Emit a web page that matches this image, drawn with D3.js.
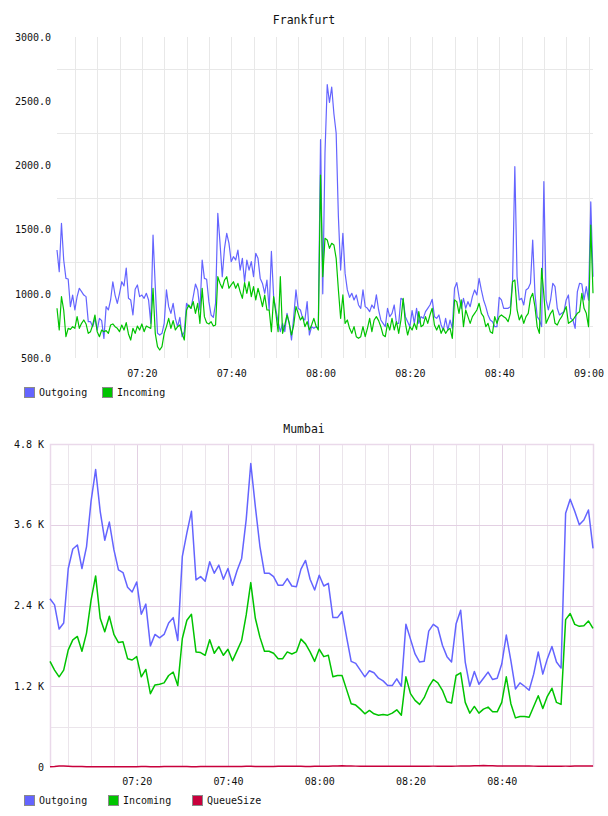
<!DOCTYPE html>
<html>
<head>
<meta charset="utf-8">
<script src="https://cdn.jsdelivr.net/npm/d3@7"></script>
<style>
  html, body { margin: 0; padding: 0; background: #fff; }
  svg { display: block; }
  text { font-family: "DejaVu Sans Mono", monospace; fill: #111; }
</style>
</head>
<body>
<svg id="chart" width="608" height="816"></svg>
<script>
// ---------------- DATA ----------------
const seriesNames = ["Outgoing", "Incoming", "QueueSize"];
const seriesColors = ["#6464ff", "#00c400", "#c8003c"];

// Frankfurt: 30-second samples from 07:01:00
const frankfurtStart = [7, 1, 0];
const frankfurtStepSec = 30;
const frankfurtOutgoing = [
1341,1172,1549,1263,1120,1115,900,990,874,978,
1043,1017,990,978,783,783,744,809,718,809,
791,653,900,874,952,1094,990,926,1004,1094,
1061,1200,965,952,835,1035,1069,978,990,965,
1004,952,770,1458,1056,692,679,692,770,1030,
900,848,926,809,744,817,666,705,926,900,
887,978,1076,1030,874,1263,1120,1113,939,835,
817,926,1627,1393,1133,1354,1471,1393,1250,1289,
1263,1341,1185,1276,1094,1263,1185,1250,1133,1315,
1276,1120,1081,1004,1107,874,1330,978,874,783,
705,770,705,848,770,640,822,1030,887,874,
809,796,939,679,744,731,744,731,2200,1000,
2100,2630,2490,2610,2400,2250,1600,1185,1471,1159,
1030,972,1004,952,991,913,887,1030,900,887,
861,913,887,991,874,796,770,744,887,822,
848,913,770,770,965,952,822,783,744,869,
770,887,770,822,809,861,887,913,957,822,
809,835,757,718,809,718,796,731,1043,1087,
978,887,965,887,939,900,978,1030,991,1120,
1030,952,900,835,796,783,744,744,972,952,
887,887,887,900,1107,1990,1133,952,965,913,
1030,1043,1082,1419,1004,822,796,744,1873,952,
874,952,1082,1056,887,835,848,861,952,991,
809,796,731,1017,1082,1076,952,1056,950,1717,
1133];
const frankfurtIncoming = [
887,718,978,874,666,731,723,744,731,822,
731,770,796,765,692,705,757,835,705,666,
718,705,713,692,757,765,744,731,705,757,
718,775,687,640,731,692,749,718,765,705,
749,739,731,1043,692,588,562,588,692,744,
809,731,791,718,744,757,692,640,874,913,
887,939,848,926,770,1043,822,775,765,783,
749,757,1133,1081,1043,1107,1133,1043,1069,1094,
1043,1081,1017,965,1087,1004,1094,978,1056,952,
1043,978,900,990,874,874,705,978,848,705,
1133,692,757,835,770,679,757,900,848,796,
822,744,783,718,757,809,749,718,1925,1133,
1432,1419,1354,1393,1380,1276,1030,809,991,770,
796,731,692,744,666,653,666,744,666,731,
809,705,796,822,791,744,679,666,770,718,
809,718,783,692,796,965,770,679,744,718,
770,723,861,744,757,822,770,835,887,757,
718,757,692,731,692,718,731,653,952,939,
848,952,744,874,822,770,822,848,874,926,
848,822,744,770,705,692,822,770,822,835,
822,809,783,848,1094,1107,874,796,835,770,
822,848,965,1004,900,744,692,1198,991,770,
809,848,874,770,757,796,822,861,900,770,
783,796,822,848,861,1004,887,848,744,1536,
1004];
const frankfurtYTicks = [500, 1000, 1500, 2000, 2500, 3000];
const frankfurtYGrid = [750, 1250, 1750, 2250, 2750];
const frankfurtXTicks = ["07:20", "07:40", "08:00", "08:20", "08:40", "09:00"];

// Mumbai: 1-minute samples from 07:01
const mumbaiStart = [7, 1, 0];
const mumbaiStepSec = 60;
const mumbaiOutgoing = [
2500,2410,2050,2140,2950,3240,3300,2950,3270,3950,
4420,3800,3370,3640,3230,2930,2890,2670,2600,2750,
2270,2420,1800,1970,1920,1970,2140,2220,1880,3130,
3480,3800,2780,2830,2760,3050,2880,3000,2790,2950,
2700,2920,3100,3680,4510,3870,3280,2880,2880,2830,
2700,2700,2800,2690,2680,2940,3070,2790,2630,2850,
2690,2730,2220,2220,2310,1930,1570,1540,1440,1340,
1430,1400,1320,1280,1210,1210,1310,1200,2120,1900,
1680,1560,1570,2020,2120,2070,1810,1640,1560,2130,
2330,1560,1200,1420,1230,1320,1410,1300,1320,1530,
1960,1580,1160,1250,1200,1140,1380,1710,1380,1610,
1790,1560,1470,3770,3980,3800,3600,3670,3820,3250];
const mumbaiIncoming = [
1570,1440,1340,1440,1740,1890,1940,1720,1990,2480,
2840,2210,2010,2240,1970,1850,1860,1610,1590,1640,
1340,1450,1090,1220,1230,1250,1360,1410,1210,1910,
2180,2270,1710,1700,1660,1890,1690,1790,1660,1750,
1580,1730,1880,2260,2740,2210,1930,1720,1720,1690,
1610,1610,1710,1680,1710,1900,1830,1710,1570,1750,
1640,1660,1340,1360,1360,1150,940,920,860,790,
840,790,770,780,770,800,850,770,1340,1090,
990,930,1030,1190,1300,1250,1140,970,950,1360,
1400,960,800,900,800,860,890,820,820,960,
1340,940,730,750,750,740,900,1060,870,1050,
1170,960,930,2190,2280,2120,2090,2100,2170,2060];
const mumbaiQueueSize = [
4,8,14,16,12,9,7,6,5,5,
4,4,4,3,3,4,4,5,5,5,
6,6,5,5,5,6,6,7,7,6,
6,5,5,6,7,8,8,7,7,8,
8,9,9,10,10,9,9,8,8,9,
10,10,11,11,10,10,9,9,10,10,
11,12,14,16,18,16,14,13,12,12,
11,11,10,10,10,11,12,12,12,11,
11,11,12,12,13,13,12,12,12,13,
14,15,16,18,20,22,20,18,16,15,
14,14,15,16,15,14,13,13,12,12,
12,12,12,13,13,14,14,15,15,15];
const mumbaiYTicks = [0, 1200, 2400, 3600, 4800];
const mumbaiYTickLabels = ["0", "1.2 K", "2.4 K", "3.6 K", "4.8 K"];
const mumbaiYGridMinor = [600, 1800, 3000, 4200];
const mumbaiXTicks = ["07:20", "07:40", "08:00", "08:20", "08:40"];

// ---------------- DRAWING ----------------
const svg = d3.select("#chart");
const day = (h, m, s) => new Date(2020, 0, 1, h, m, s || 0);
const parseHM = d3.timeParse("%H:%M");
const hm = str => { const t = parseHM(str); return day(t.getHours(), t.getMinutes(), 0); };
const times = (start, step, n) => d3.range(n).map(i => new Date(day(...start).getTime() + i * step * 1000));
const crisp = v => Math.round(v) + 0.5;

function legend(g, names, colors, xs, y) {
  names.forEach((name, i) => {
    g.append("rect").attr("x", xs[i] + 0.5).attr("y", y - 4.5).attr("width", 10).attr("height", 10)
      .attr("fill", colors[i]).attr("stroke", "#8a8a8a").attr("stroke-width", 1);
    g.append("text").attr("x", xs[i] + 15).attr("y", y + 4).attr("font-size", "10px").text(name);
  });
}

// ---- Frankfurt ----
(function () {
  const L = 57, R = 593, T = 37, B = 358;
  const t = times(frankfurtStart, frankfurtStepSec, frankfurtOutgoing.length);
  const x = d3.scaleTime().domain([t[0], t[t.length - 1]]).range([L, R]);
  const y = d3.scaleLinear().domain([500, 3000]).range([B, T]);
  const g = svg.append("g");

  g.append("text").attr("x", 304).attr("y", 24).attr("text-anchor", "middle")
    .attr("font-size", "11.5px").text("Frankfurt");

  const vgrid = d3.timeMinute.every(5).range(x.domain()[0], x.domain()[1]);
  g.append("g").selectAll("line").data(vgrid).join("line")
    .attr("x1", d => crisp(x(d))).attr("x2", d => crisp(x(d)))
    .attr("y1", T).attr("y2", B).attr("stroke", "#e8e8e8");
  g.append("g").selectAll("line").data(frankfurtYGrid).join("line")
    .attr("x1", L).attr("x2", R).attr("y1", d => crisp(y(d))).attr("y2", d => crisp(y(d)))
    .attr("stroke", "#e8e8e8");

  const ya = g.append("g").attr("transform", `translate(${L},0)`)
    .call(d3.axisLeft(y).tickValues(frankfurtYTicks).tickFormat(d3.format(".1f")).tickSize(0).tickPadding(6));
  ya.select(".domain").remove();
  ya.selectAll("text").attr("font-size", "10px").attr("font-family", "DejaVu Sans Mono").attr("fill", "#111");

  const xa = g.append("g").attr("transform", `translate(0,${B})`)
    .call(d3.axisBottom(x).tickValues(frankfurtXTicks.map(hm)).tickFormat(d3.timeFormat("%H:%M")).tickSize(0).tickPadding(12));
  xa.select(".domain").remove();
  xa.selectAll("text").attr("font-size", "10px").attr("font-family", "DejaVu Sans Mono").attr("fill", "#111");

  const line = d3.line().x((d, i) => x(t[i])).y(d => y(d));
  [frankfurtOutgoing, frankfurtIncoming].forEach((s, k) => {
    g.append("path").datum(s).attr("d", line).attr("fill", "none")
      .attr("stroke", seriesColors[k]).attr("stroke-width", 1.2).attr("stroke-linejoin", "round");
  });

  legend(g, seriesNames.slice(0, 2), seriesColors.slice(0, 2), [24, 102], 392);
})();

// ---- Mumbai ----
(function () {
  const L = 50, R = 593, T = 444, B = 767;
  const t = times(mumbaiStart, mumbaiStepSec, mumbaiOutgoing.length);
  const x = d3.scaleTime().domain([t[0], t[t.length - 1]]).range([L, R]);
  const y = d3.scaleLinear().domain([0, 4800]).range([B, T]);
  const g = svg.append("g");

  g.append("text").attr("x", 304).attr("y", 433).attr("text-anchor", "middle")
    .attr("font-size", "11.5px").text("Mumbai");

  const vgrid = d3.timeMinute.every(5).range(x.domain()[0], x.domain()[1]);
  g.append("g").selectAll("line").data(vgrid).join("line")
    .attr("x1", d => crisp(x(d))).attr("x2", d => crisp(x(d)))
    .attr("y1", T).attr("y2", B)
    .attr("stroke", d => d.getMinutes() % 20 === 0 ? "#e3d0e3" : "#ebe5eb");
  g.append("g").selectAll("line").data(mumbaiYGridMinor).join("line")
    .attr("x1", L).attr("x2", R).attr("y1", d => crisp(y(d))).attr("y2", d => crisp(y(d)))
    .attr("stroke", "#ebe5eb");
  g.append("g").selectAll("line").data(mumbaiYTicks.filter(v => v > 0 && v < 4800)).join("line")
    .attr("x1", L).attr("x2", R).attr("y1", d => crisp(y(d))).attr("y2", d => crisp(y(d)))
    .attr("stroke", "#e3d0e3");
  g.append("path").attr("d", `M${L + 0.5},${B}V${T + 0.5}H${R + 0.5}V${B}`)
    .attr("fill", "none").attr("stroke", "#ead9ea").attr("stroke-width", 1.5);

  const ya = g.append("g").attr("transform", `translate(${L},0)`)
    .call(d3.axisLeft(y).tickValues(mumbaiYTicks).tickFormat((d, i) => mumbaiYTickLabels[i]).tickSize(0).tickPadding(6));
  ya.select(".domain").remove();
  ya.selectAll("text").attr("font-size", "10px").attr("font-family", "DejaVu Sans Mono").attr("fill", "#111");

  const xa = g.append("g").attr("transform", `translate(0,${B})`)
    .call(d3.axisBottom(x).tickValues(mumbaiXTicks.map(hm)).tickFormat(d3.timeFormat("%H:%M")).tickSize(0).tickPadding(10.5));
  xa.select(".domain").remove();
  xa.selectAll("text").attr("font-size", "10px").attr("font-family", "DejaVu Sans Mono").attr("fill", "#111");

  const line = d3.line().x((d, i) => x(t[i])).y(d => y(d));
  [mumbaiOutgoing, mumbaiIncoming, mumbaiQueueSize].forEach((s, k) => {
    g.append("path").datum(s).attr("d", line).attr("fill", "none")
      .attr("stroke", seriesColors[k]).attr("stroke-width", 1.5).attr("stroke-linejoin", "round");
  });

  legend(g, seriesNames, seriesColors, [24, 108, 192], 800);
})();
</script>
</body>
</html>
